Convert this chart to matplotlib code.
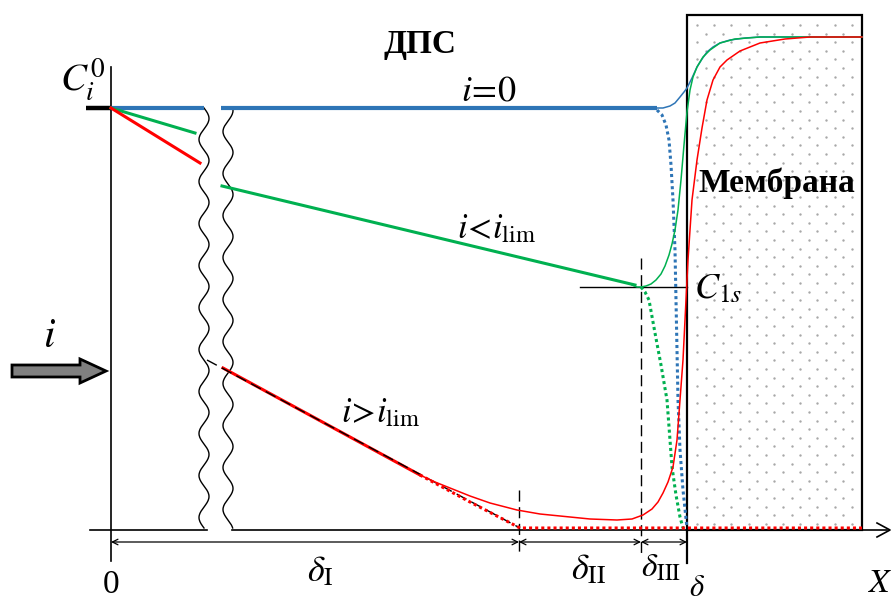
import numpy as np
import matplotlib.pyplot as plt
from matplotlib.patches import Rectangle, FancyArrow

plt.rcParams['mathtext.fontset'] = 'stix'
plt.rcParams['font.family'] = ['Liberation Serif', 'DejaVu Serif']

# scheme coordinates (pixels, y down)
blue_l_x, blue_l_y = [111, 204], [108, 108]
blue_r_x, blue_r_y = [221, 657], [108, 108]
green_l_x, green_l_y = [111, 195], [108, 133]
green_r_x, green_r_y = [222, 635], [186, 285]
red_l_x, red_l_y = [111, 200], [108, 163]
red_r_x, red_r_y = [223, 420], [368, 475]
extrap_x, extrap_y = [207, 520], [360, 528]

# thin profiles in the membrane / near surface
blue_m_x = [655, 663, 670, 675, 680, 684, 687, 692, 697, 702, 707, 713, 720, 730, 745, 760, 800, 862]
blue_m_y = [108, 108, 106, 103, 97, 92, 88, 78, 67, 59, 52, 47, 43, 40, 38, 37, 37, 37]
green_m_x = [632, 637, 641, 646, 651, 656, 661, 665, 669, 672, 675, 678, 681, 684, 687, 690, 693, 697, 703, 710, 720, 735, 760, 862]
green_m_y = [285, 287, 287, 286, 284, 280, 274, 266, 255, 244, 230, 210, 180, 145, 112, 90, 77, 67, 57, 50, 43, 39, 37, 37]
red_m_x = [420, 435, 450, 470, 490, 517, 540, 560, 590, 617, 632, 643, 652, 658, 663, 668, 673, 677, 680, 683, 685, 688, 692, 697, 702, 707, 713, 720, 727, 740, 760, 785, 810, 862]
red_m_y = [475, 482, 488, 496, 503, 510, 514, 516, 519, 520, 519, 515, 509, 502, 493, 482, 467, 440, 400, 360, 320, 260, 200, 160, 128, 100, 80, 67, 60, 51, 43, 39, 37, 37]

# dotted (zero-current / depleted) profiles
blue_d_x = [657, 662, 666, 669, 671, 673, 675, 676, 677, 678, 680, 683, 687]
blue_d_y = [110, 115, 125, 140, 165, 200, 250, 300, 350, 400, 450, 490, 528]
green_d_x = [641, 645, 649, 655, 661, 667, 670, 672, 676, 680, 683]
green_d_y = [287, 292, 300, 333, 365, 400, 440, 467, 495, 517, 528]
red_d_x = [420, 470, 520, 600, 700, 800, 862]
red_d_y = [475, 502, 528, 528, 528, 528, 528]

fig = plt.figure(figsize=(8.96, 6.01), dpi=100)
ax = fig.add_axes([0, 0, 1, 1])
ax.set_xlim(0, 896)
ax.set_ylim(601, 0)
ax.axis('off')

# membrane
ax.add_patch(Rectangle((687, 15), 175, 515, fill=False, ec='black', lw=1.6, zorder=3))
gx, gy = [], []
for k, yy in enumerate(np.arange(25, 526, 8.6)):
    off = 0 if k % 2 == 0 else 8.6
    for xx in np.arange(697 + off, 858, 17.2):
        gx.append(xx)
        gy.append(yy)
ax.scatter(gx, gy, s=3, color='#a8a8a8', lw=0, zorder=1)

# axes
ax.plot([111, 111], [67, 561], color='black', lw=1.2)
ax.plot([90, 207], [530, 530], color='black', lw=1.2)
ax.plot([232, 887], [530, 530], color='black', lw=1.2)
ax.plot([877, 890, 877], [523, 530, 537], color='black', lw=1.2)
ax.plot([687, 687], [530, 563], color='black', lw=1.6)
ax.plot([86, 111], [108, 108], color='black', lw=3.2, solid_capstyle='butt')

# break marks
wy = np.linspace(108, 528, 400)
ax.plot(204 + 5 * np.sin(2 * np.pi * (wy - 108) / 42), wy, color='black', lw=1.0)
ax.plot(228 + 5 * np.sin(2 * np.pi * (wy - 100) / 42), wy, color='black', lw=1.0)

blue, green, red = '#2E75B6', '#00B050', '#FF0000'

# thick linear parts
ax.plot(blue_l_x, blue_l_y, color=blue, lw=3.0, solid_capstyle='butt')
ax.plot(blue_r_x, blue_r_y, color=blue, lw=3.0, solid_capstyle='butt')
ax.plot(green_l_x, green_l_y, color=green, lw=2.2)
ax.plot(green_r_x, green_r_y, color=green, lw=2.2)
ax.plot(red_l_x, red_l_y, color=red, lw=2.2)
ax.plot(red_r_x, red_r_y, color=red, lw=2.2)
ax.plot(extrap_x, extrap_y, color='black', lw=1.0, ls=(0, (8, 4)), zorder=4)

# thin profiles
ax.plot(blue_m_x, blue_m_y, color=blue, lw=1.1, zorder=5)
ax.plot(green_m_x, green_m_y, color=green, lw=1.1, zorder=5)
ax.plot(red_m_x, red_m_y, color=red, lw=1.1, zorder=5)

# dotted profiles
ax.plot(blue_d_x, blue_d_y, color=blue, lw=2.2, ls=(0, (1, 1)), zorder=4)
ax.plot(green_d_x, green_d_y, color=green, lw=2.2, ls=(0, (1, 1)), zorder=4)
ax.plot(red_d_x, red_d_y, color=red, lw=2.2, ls=(0, (1, 1)), zorder=4)

# C1s level and layer boundaries
ax.plot([580, 687], [287, 287], color='black', lw=1.0)
ax.plot([641, 641], [258, 557], color='black', lw=1.0, ls=(0, (8, 4)))
ax.plot([519, 519], [490, 555], color='black', lw=1.0, ls=(0, (8, 4)))

# dimension arrows
for a, b in [(111, 519), (519, 641), (641, 687)]:
    ax.annotate('', xy=(a, 542), xytext=(b, 542),
                arrowprops=dict(arrowstyle='<->', color='black', lw=0.9,
                                shrinkA=0, shrinkB=0, mutation_scale=10))

# current arrow
ax.add_patch(FancyArrow(12, 371, 94, 0, width=12, head_width=24, head_length=26,
                        length_includes_head=True, fc='#808080', ec='black', lw=2))

# labels
ax.text(420, 45, 'ДПС', fontsize=24, fontweight='bold', ha='center', va='center')
ax.text(777, 183, 'Мембрана', fontsize=24, fontweight='bold', ha='center', va='center')
ax.text(489, 92, r'$i\!=\!0$', fontsize=26, ha='center', va='center')
ax.text(497, 230, r'$i\!<\!i_{\mathrm{lim}}$', fontsize=25, ha='center', va='center')
ax.text(381, 414, r'$i\!>\!i_{\mathrm{lim}}$', fontsize=25, ha='center', va='center')
ax.text(83, 80, r'$C_i^0$', fontsize=28, ha='center', va='center')
ax.text(718, 290, r'$C_{\mathrm{1}s}$', fontsize=26, ha='center', va='center')
ax.text(49, 337, r'$i$', fontsize=30, ha='center', va='center')
ax.text(320, 572, r'$\delta_{\mathrm{I}}$', fontsize=26, ha='center', va='center')
ax.text(589, 570, r'$\delta_{\mathrm{II}}$', fontsize=26, ha='center', va='center')
ax.text(661, 568, r'$\delta_{\mathrm{III}}$', fontsize=24, ha='center', va='center')
ax.text(697, 588, r'$\delta$', fontsize=22, ha='center', va='center')
ax.text(880, 584, r'$X$', fontsize=24, ha='center', va='center')
ax.text(111, 585, '0', fontsize=24, ha='center', va='center')

fig.savefig('out.png', dpi=100)
